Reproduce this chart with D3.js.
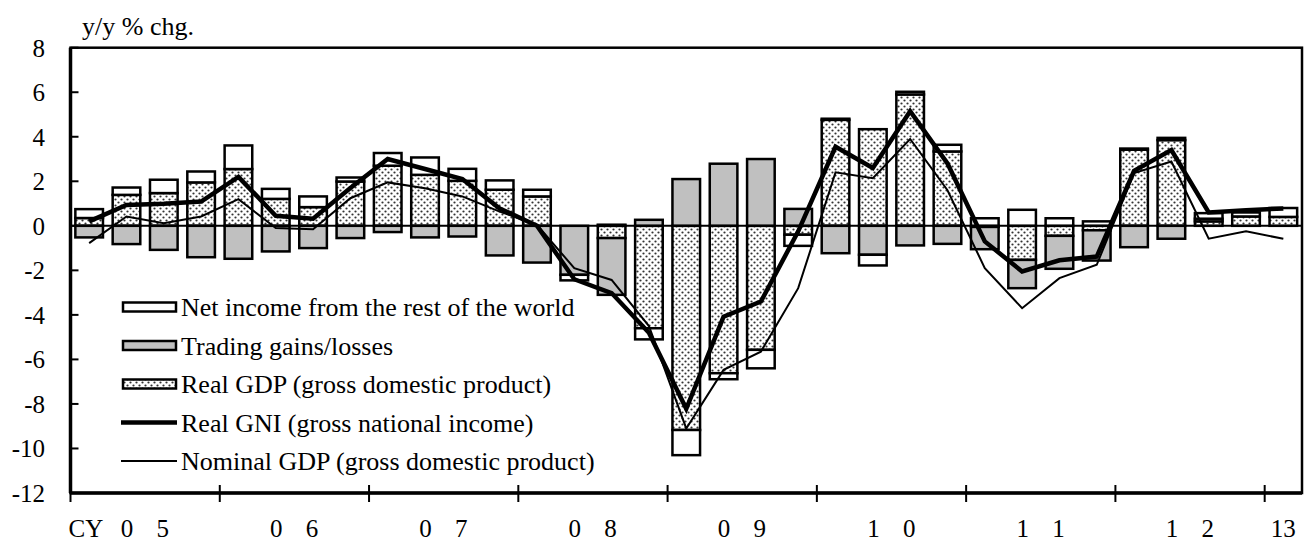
<!DOCTYPE html>
<html>
<head>
<meta charset="utf-8">
<script src="https://cdn.jsdelivr.net/npm/d3@7"></script>
<style>
  body { margin: 0; background: #fff; }
  svg { display: block; }
  text { font-family: "Liberation Serif", "Times New Roman", serif; fill: #000; }
</style>
</head>
<body>
<svg id="chart" width="1305" height="545"></svg>
<script>
// quarters CY2005Q1 - 2013Q1
const quarters = [
    '05Q1', '05Q2', '05Q3', '05Q4', '06Q1', '06Q2', '06Q3', '06Q4',
    '07Q1', '07Q2', '07Q3', '07Q4', '08Q1', '08Q2', '08Q3', '08Q4',
    '09Q1', '09Q2', '09Q3', '09Q4', '10Q1', '10Q2', '10Q3', '10Q4',
    '11Q1', '11Q2', '11Q3', '11Q4', '12Q1', '12Q2', '12Q3', '12Q4',
    '13Q1'
];

const realGDP = [
    0.35, 1.39, 1.47, 1.95, 2.55, 1.21, 0.84, 1.99,
    2.70, 2.29, 2.02, 1.62, 1.32, 0.00, -0.55, -4.60,
    -9.17, -6.62, -5.57, -0.40, 4.76, 4.34, 5.90, 3.34,
    -0.05, -1.53, -0.45, -0.20, 3.42, 3.85, 0.20, 0.42,
    0.40
];

const tradingGains = [
    -0.52, -0.82, -1.08, -1.41, -1.48, -1.15, -1.00, -0.55,
    -0.28, -0.52, -0.48, -1.33, -1.65, -2.20, -2.55, 0.27,
    2.10, 2.79, 3.00, 0.76, -1.23, -1.30, -0.88, -0.81,
    -1.00, -1.27, -1.48, -1.36, -0.96, -0.58, 0.12, 0.00,
    0.00
];

const netIncome = [
    0.40, 0.33, 0.60, 0.49, 1.06, 0.45, 0.48, 0.18,
    0.57, 0.78, 0.54, 0.42, 0.30, -0.25, 0.05, -0.50,
    -1.13, -0.27, -0.83, -0.50, 0.05, -0.48, 0.12, 0.30,
    0.34, 0.72, 0.34, 0.20, 0.05, 0.10, 0.25, 0.18,
    0.40
];

const realGNI = [
    0.20, 0.94, 0.99, 1.09, 2.20, 0.45, 0.32, 1.70,
    3.00, 2.55, 2.10, 0.78, 0.00, -2.40, -3.02, -4.80,
    -8.22, -4.08, -3.40, -0.25, 3.55, 2.60, 5.15, 2.80,
    -0.70, -2.05, -1.55, -1.38, 2.47, 3.40, 0.60, 0.70,
    0.78
];

const nominalGDP = [
    -0.78, 0.42, 0.12, 0.42, 1.20, -0.10, -0.15, 1.24,
    1.95, 1.69, 1.32, 0.64, 0.04, -1.90, -2.43, -4.50,
    -9.10, -6.47, -5.65, -2.80, 2.40, 2.14, 3.90, 1.60,
    -1.90, -3.70, -2.35, -1.75, 2.37, 2.89, -0.58, -0.25,
    -0.58
];

const yearLabels = ['0 5', '0 6', '0 7', '0 8', '0 9', '1 0', '1 1', '1 2', '13'];
const yTicks = [-12, -10, -8, -6, -4, -2, 0, 2, 4, 6, 8];

const svg = d3.select('#chart');
const plotLeft = 70.5, plotRight = 1302, plotTop = 47.7, plotBottom = 493;

const x = d3.scaleBand()
    .domain(quarters)
    .range([plotLeft, plotRight])
    .paddingInner(0.26)
    .paddingOuter(0.13);

const y = d3.scaleLinear()
    .domain([-12, 8])
    .range([plotBottom, plotTop]);

// dotted pattern for real GDP
const defs = svg.append('defs');
const pat = defs.append('pattern')
    .attr('id', 'dots')
    .attr('patternUnits', 'userSpaceOnUse')
    .attr('width', 6)
    .attr('height', 6);
pat.append('rect').attr('width', 6).attr('height', 6).attr('fill', '#fff');
pat.append('circle').attr('cx', 1.5).attr('cy', 1.5).attr('r', 1.1).attr('fill', '#333');
pat.append('circle').attr('cx', 4.5).attr('cy', 4.5).attr('r', 1.1).attr('fill', '#333');

const rows = quarters.map((q, i) => ({
    q: q,
    gdp: realGDP[i],
    tot: tradingGains[i],
    nif: netIncome[i]
}));

const stack = d3.stack()
    .keys(['gdp', 'tot', 'nif'])
    .offset(d3.stackOffsetDiverging);
const series = stack(rows);

const fills = { gdp: 'url(#dots)', tot: '#c0c0c0', nif: '#fff' };

svg.append('g')
    .selectAll('g')
    .data(series)
    .join('g')
    .attr('fill', d => fills[d.key])
    .selectAll('rect')
    .data(d => d)
    .join('rect')
    .attr('x', d => x(d.data.q))
    .attr('width', x.bandwidth())
    .attr('y', d => y(Math.max(d[0], d[1])))
    .attr('height', d => Math.abs(y(d[0]) - y(d[1])))
    .attr('stroke', '#000')
    .attr('stroke-width', 2.5);

// zero line
svg.append('line')
    .attr('x1', plotLeft).attr('x2', plotRight)
    .attr('y1', y(0)).attr('y2', y(0))
    .attr('stroke', '#000')
    .attr('stroke-width', 2);

const xc = q => x(q) + x.bandwidth() / 2;

const line = data => d3.line()
    .x((d, i) => xc(quarters[i]))
    .y(d => y(d))(data);

svg.append('path')
    .attr('d', line(nominalGDP))
    .attr('fill', 'none')
    .attr('stroke', '#000')
    .attr('stroke-width', 2);

svg.append('path')
    .attr('d', line(realGNI))
    .attr('fill', 'none')
    .attr('stroke', '#000')
    .attr('stroke-width', 4.5);

// frame
svg.append('rect')
    .attr('x', plotLeft).attr('y', plotTop)
    .attr('width', plotRight - plotLeft).attr('height', plotBottom - plotTop)
    .attr('fill', 'none')
    .attr('stroke', '#000')
    .attr('stroke-width', 2.5);
svg.append('line')
    .attr('x1', plotLeft).attr('x2', plotLeft)
    .attr('y1', plotTop).attr('y2', plotBottom)
    .attr('stroke', '#000').attr('stroke-width', 3.5);
svg.append('line')
    .attr('x1', plotLeft).attr('x2', plotRight)
    .attr('y1', plotBottom).attr('y2', plotBottom)
    .attr('stroke', '#000').attr('stroke-width', 3.5);

// y ticks and labels
const yAxis = svg.append('g');
yAxis.selectAll('line')
    .data(yTicks)
    .join('line')
    .attr('x1', plotLeft).attr('x2', plotLeft + 8)
    .attr('y1', d => y(d)).attr('y2', d => y(d))
    .attr('stroke', '#000').attr('stroke-width', 2);
yAxis.selectAll('text')
    .data(yTicks)
    .join('text')
    .attr('x', 45)
    .attr('y', d => y(d) + 9)
    .attr('text-anchor', 'end')
    .style('font-size', '25px')
    .text(d => d);

svg.append('text')
    .attr('x', 82).attr('y', 35)
    .style('font-size', '26px')
    .text('y/y % chg.');

// year ticks on the x axis
const gap = x.step() - x.bandwidth();
const yearStarts = quarters.filter(q => q.endsWith('Q1'));
const yearX = q => x(q) - gap / 2;

svg.append('g')
    .selectAll('line')
    .data(yearStarts)
    .join('line')
    .attr('x1', d => yearX(d)).attr('x2', d => yearX(d))
    .attr('y1', plotBottom - 8).attr('y2', plotBottom + 9)
    .attr('stroke', '#000').attr('stroke-width', 2);

svg.append('g')
    .selectAll('text')
    .data(yearStarts)
    .join('text')
    .attr('x', (d, i) => {
        const x0 = yearX(d);
        const x1 = i < yearStarts.length - 1 ? yearX(yearStarts[i + 1]) : plotRight;
        return (x0 + x1) / 2 + (yearLabels[i].includes(' ') ? 4 : 0);
    })
    .attr('y', 537)
    .attr('text-anchor', 'middle')
    .style('font-size', '25px')
    .style('white-space', 'pre')
    .style('letter-spacing', (d, i) => yearLabels[i].includes(' ') ? '8.5px' : '0px')
    .text((d, i) => yearLabels[i]);

svg.append('text')
    .attr('x', yearX(yearStarts[0]) - 2)
    .attr('y', 537)
    .style('font-size', '25px')
    .text('CY');

// legend
const legendItems = [
    { label: 'Net income from the rest of the world', type: 'rect', fill: '#fff' },
    { label: 'Trading gains/losses', type: 'rect', fill: '#c0c0c0' },
    { label: 'Real GDP (gross domestic product)', type: 'rect', fill: 'url(#dots)' },
    { label: 'Real GNI (gross national income)', type: 'line', width: 4.5 },
    { label: 'Nominal GDP (gross domestic product)', type: 'line', width: 2 }
];

const legend = svg.append('g');
legendItems.forEach((item, i) => {
    const base = 316 + i * 38.5;
    if (item.type === 'rect') {
        legend.append('rect')
            .attr('x', 123).attr('y', base - 13.5)
            .attr('width', 53).attr('height', 9)
            .attr('fill', item.fill)
            .attr('stroke', '#000').attr('stroke-width', 2.5);
    } else {
        legend.append('line')
            .attr('x1', 121).attr('x2', 177)
            .attr('y1', base - 9).attr('y2', base - 9)
            .attr('stroke', '#000').attr('stroke-width', item.width);
    }
    legend.append('text')
        .attr('x', 181).attr('y', base)
        .style('font-size', '26px')
        .text(item.label);
});
</script>
</body>
</html>
